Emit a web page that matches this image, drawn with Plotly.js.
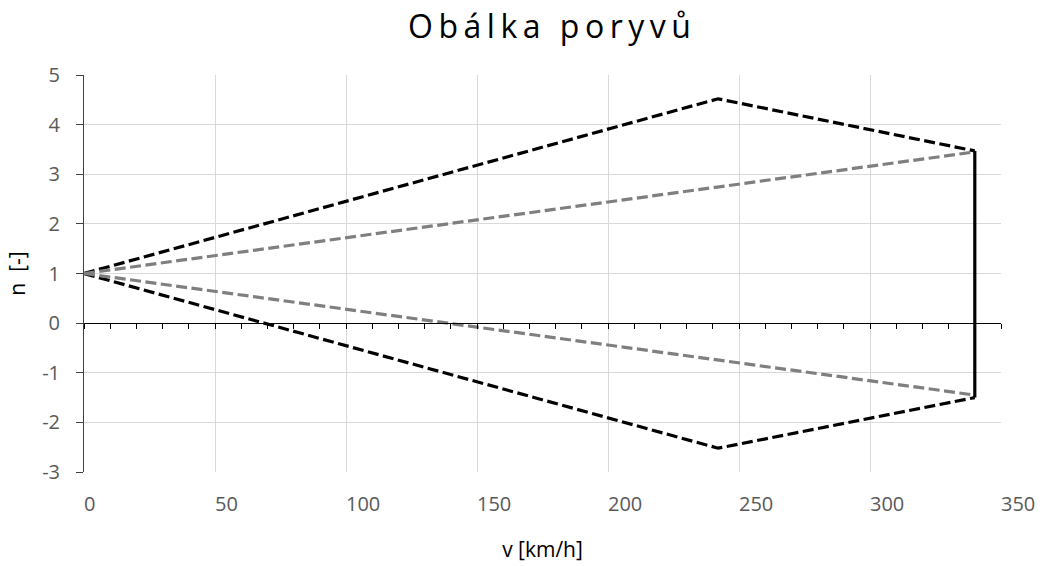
<!DOCTYPE html>
<html>
<head>
<meta charset="utf-8">
<script src="https://cdn.plot.ly/plotly-3.0.1.min.js"></script>
<style>html,body{margin:0;padding:0;background:#fff;}#chart{width:1042px;height:566px;}</style>
</head>
<body>
<div id="chart"></div>
<script>
// Data
const upperGustX = [0, 242, 340];
const upperGustN = [1, 4.52, 3.47];
const lowerGustX = [0, 242, 340];
const lowerGustN = [1, -2.52, -1.5];
const upperGrayX = [0, 340];
const upperGrayN = [1, 3.45];
const lowerGrayX = [0, 340];
const lowerGrayN = [1, -1.45];
const closeX = [340, 340];
const closeN = [3.47, -1.5];
const xTickVals = [0, 50, 100, 150, 200, 250, 300, 350];
const yTickVals = [-3, -2, -1, 0, 1, 2, 3, 4, 5];

const dashStyle = '11px,4.5px';
const traces = [
  {x: upperGustX, y: upperGustN, mode: 'lines', line: {color: '#000000', width: 3.2, dash: dashStyle}},
  {x: lowerGustX, y: lowerGustN, mode: 'lines', line: {color: '#000000', width: 3.2, dash: dashStyle}},
  {x: upperGrayX, y: upperGrayN, mode: 'lines', line: {color: '#7f7f7f', width: 3.2, dash: dashStyle}},
  {x: lowerGrayX, y: lowerGrayN, mode: 'lines', line: {color: '#7f7f7f', width: 3.2, dash: dashStyle}},
  {x: closeX, y: closeN, mode: 'lines', line: {color: '#000000', width: 3.2}},
  // invisible trace to activate the zero-positioned axis
  {x: [0], y: [0], xaxis: 'x2', mode: 'markers', marker: {opacity: 0}, hoverinfo: 'skip'}
];

const tickFont = {family: 'Open Sans, sans-serif', size: 20, color: '#595959'};
const layout = {
  width: 1042, height: 566,
  paper_bgcolor: '#ffffff', plot_bgcolor: '#ffffff',
  showlegend: false,
  margin: {l: 84, r: 41, t: 75, b: 94},
  title: {text: 'Obálka poryvů', x: 0.53, xanchor: 'center', y: 0.952, yanchor: 'middle',
          font: {family: 'Open Sans, sans-serif', size: 32, color: '#000000'}},
  xaxis: {
    range: [0, 350], tickvals: xTickVals, ticktext: xTickVals.map(String),
    showgrid: true, gridcolor: '#d9d9d9', gridwidth: 1,
    zeroline: false, showline: false, ticks: '',
    ticklabelposition: 'outside right',
    tickfont: tickFont, ticklabelstandoff: 18,
    title: {text: 'v [km/h]', font: {family: 'Open Sans, sans-serif', size: 21, color: '#000000'}, standoff: 26},
    automargin: false,
    fixedrange: true
  },
  xaxis2: {
    range: [0, 350], overlaying: 'x', anchor: 'free', position: 0.375,
    showgrid: false, zeroline: false, showline: true, linecolor: '#000000', linewidth: 1,
    tickvals: xTickVals, ticks: 'outside', ticklen: 5, tickcolor: '#000000', tickwidth: 1,
    showticklabels: false,
    minor: {dtick: 10, tick0: 0, ticks: 'outside', ticklen: 5, tickcolor: '#000000', tickwidth: 1, showgrid: false}
  },
  yaxis: {
    range: [-3, 5], tickvals: yTickVals, ticktext: yTickVals.map(String),
    showgrid: true, gridcolor: '#d9d9d9', gridwidth: 1,
    zeroline: false, showline: true, linecolor: '#404040', linewidth: 1,
    ticks: 'outside', ticklen: 7, tickcolor: '#404040', tickwidth: 1,
    tickfont: tickFont, ticklabelstandoff: 12,
    title: {text: 'n  [-]', font: {family: 'Open Sans, sans-serif', size: 21, color: '#000000'}, standoff: 10},
    automargin: false,
    fixedrange: true
  }
};

Plotly.newPlot('chart', traces, layout, {staticPlot: true, displayModeBar: false}).then(function () {
  const t = document.querySelector('.gtitle');
  if (t) t.style.letterSpacing = '5.5px';
});
</script>
</body>
</html>
